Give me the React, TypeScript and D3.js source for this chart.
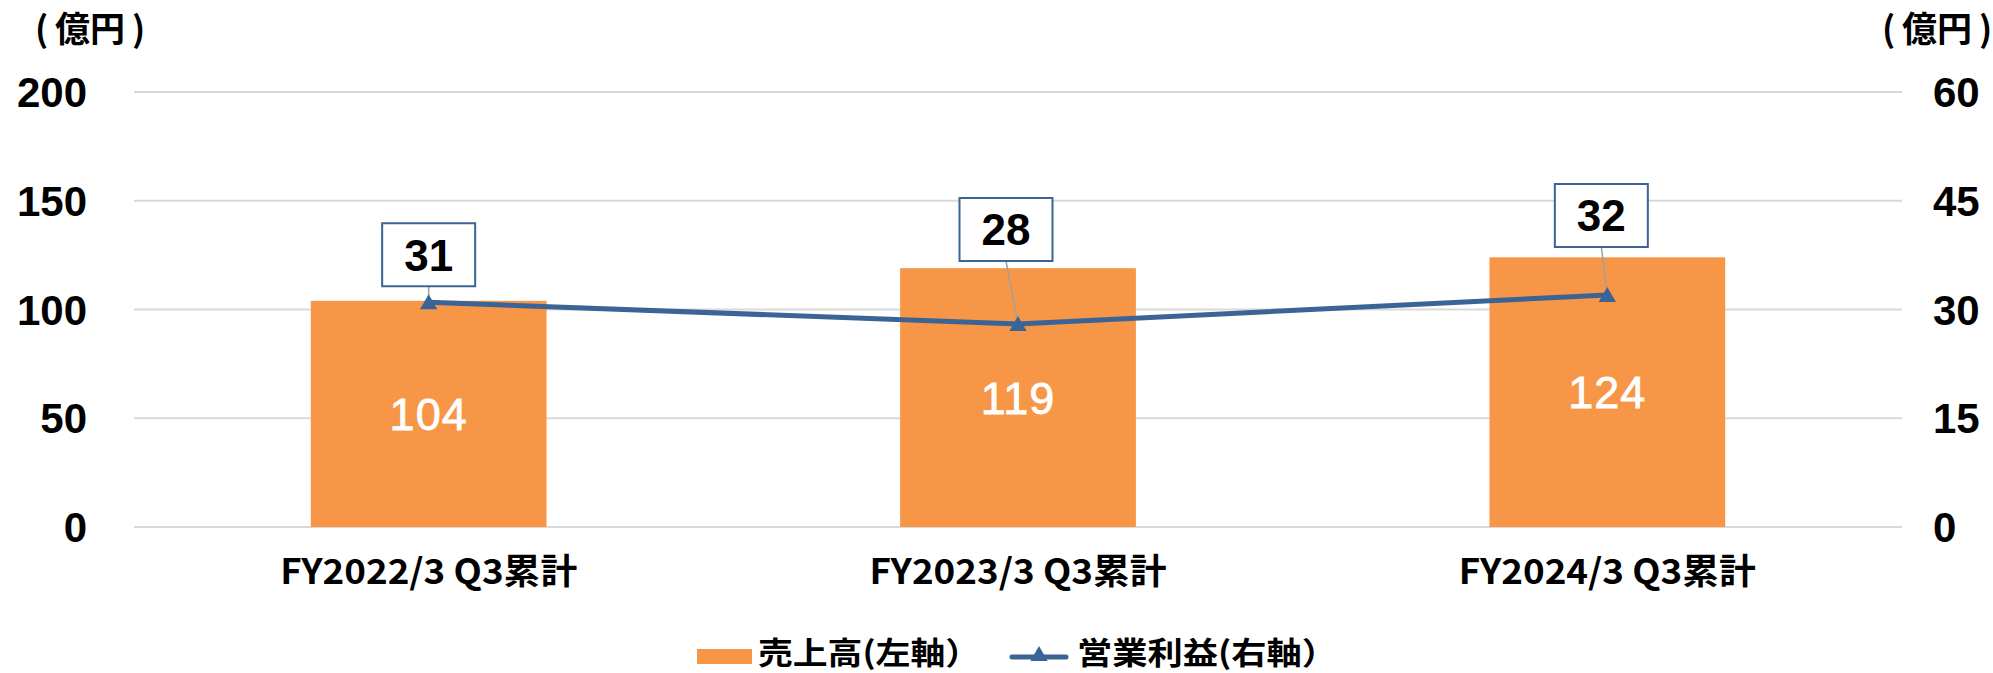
import React from "react";
import * as d3 from "d3";

const categories = ["FY2022/3 Q3累計", "FY2023/3 Q3累計", "FY2024/3 Q3累計"];
const sales = [104, 119, 124]; // 売上高 (左軸)
const profit = [31, 28, 32]; // 営業利益 (右軸)
const leftTicks = [0, 50, 100, 150, 200];
const rightTicks = [0, 15, 30, 45, 60];
const unitChars = ["(", "億", "円", ")"];
// callout box offsets relative to each point (dx, dy of box bottom-center)
const calloutOffsets = [
  [0, -16],
  [-12, -63],
  [-6, -48],
];

const W = 1993;
const H = 673;
const margin = { left: 134, right: 91, top: 92, bottom: 146 };

const ORANGE = "#F79646";
const BLUE = "#3A6496";
const GRID = "#D9D9D9";
const latin = "'Liberation Sans', Arial, sans-serif";
const cjk = "'Noto Sans CJK JP', sans-serif";

// x of each char of the unit label, relative to its left edge
const unitDx = [0, 20, 55, 97];

const UnitLabel: React.FC<{ x: number }> = ({ x }) => (
  <text y={42} fontFamily={cjk} fontWeight="bold" fontSize={35}>
    {unitChars.map((ch, i) => (
      <tspan key={i} x={x + unitDx[i]}>
        {ch}
      </tspan>
    ))}
  </text>
);

const App: React.FC = () => {
  const x = d3
    .scaleBand<string>()
    .domain(categories)
    .range([margin.left, W - margin.right])
    .paddingInner(0.6)
    .paddingOuter(0.3);
  const yL = d3.scaleLinear().domain([0, 200]).range([H - margin.bottom, margin.top]);
  const yR = d3.scaleLinear().domain([0, 60]).range([H - margin.bottom, margin.top]);

  const cx = (c: string) => (x(c) ?? 0) + x.bandwidth() / 2;
  const pts: [number, number][] = categories.map((c, i) => [cx(c), yR(profit[i])]);
  const line = d3.line();
  const tri = d3.symbol(d3.symbolTriangle, 130)() ?? "";

  const boxW = 93;
  const boxH = 63;

  return (
    <svg
      width={W}
      height={H}
      style={{ position: "absolute", left: 0, top: 0, background: "#fff" }}
    >
      {/* gridlines */}
      {leftTicks.map((t) => (
        <line
          key={t}
          x1={margin.left}
          x2={W - margin.right}
          y1={yL(t)}
          y2={yL(t)}
          stroke={GRID}
          strokeWidth={2}
        />
      ))}

      {/* unit labels */}
      <UnitLabel x={35} />
      <UnitLabel x={1882} />

      {/* left axis ticks */}
      {leftTicks.map((t) => (
        <text
          key={t}
          x={87}
          y={yL(t)}
          dy="0.36em"
          textAnchor="end"
          fontFamily={latin}
          fontWeight="bold"
          fontSize={42}
          fill="#000"
        >
          {t}
        </text>
      ))}
      {/* right axis ticks */}
      {rightTicks.map((t) => (
        <text
          key={t}
          x={1933}
          y={yR(t)}
          dy="0.36em"
          fontFamily={latin}
          fontWeight="bold"
          fontSize={42}
          fill="#000"
        >
          {t}
        </text>
      ))}

      {/* bars */}
      {categories.map((c, i) => (
        <g key={c}>
          <rect
            x={x(c)}
            y={yL(sales[i])}
            width={x.bandwidth()}
            height={yL(0) - yL(sales[i])}
            fill={ORANGE}
          />
          <text
            x={cx(c)}
            y={(yL(sales[i]) + yL(0)) / 2}
            dy="0.36em"
            textAnchor="middle"
            fontFamily={latin}
            fontSize={45}
            letterSpacing={1}
            fill="#fff"
            stroke="#fff"
            strokeWidth={0.8}
          >
            {sales[i]}
          </text>
        </g>
      ))}

      {/* category labels */}
      {categories.map((c) => (
        <text
          key={c}
          x={cx(c)}
          y={584}
          textAnchor="middle"
          fontFamily={cjk}
          fontWeight="bold"
          fontSize={35}
          textLength={297}
          lengthAdjust="spacingAndGlyphs"
        >
          {c}
        </text>
      ))}

      {/* profit line */}
      <path d={line(pts) ?? ""} fill="none" stroke={BLUE} strokeWidth={5} />

      {/* callouts */}
      {pts.map(([px, py], i) => {
        const bx = px + calloutOffsets[i][0];
        const by = py + calloutOffsets[i][1];
        return (
          <g key={i}>
            <line x1={bx} y1={by} x2={px} y2={py} stroke="#A0A0A0" strokeWidth={1.5} />
            <rect
              x={bx - boxW / 2}
              y={by - boxH}
              width={boxW}
              height={boxH}
              fill="#fff"
              stroke={BLUE}
              strokeWidth={2}
            />
            <text
              x={bx}
              y={by - boxH / 2}
              dy="0.36em"
              textAnchor="middle"
              fontFamily={latin}
              fontWeight="bold"
              fontSize={44}
            >
              {profit[i]}
            </text>
          </g>
        );
      })}

      {/* markers */}
      {pts.map(([px, py], i) => (
        <path key={i} d={tri} transform={`translate(${px},${py + 2})`} fill={BLUE} />
      ))}

      {/* legend */}
      <rect x={697} y={649} width={55} height={15} fill={ORANGE} />
      <text
        x={758}
        y={664}
        fontFamily={cjk}
        fontWeight="bold"
        fontSize={31}
        textLength={222}
        lengthAdjust="spacingAndGlyphs"
      >
        売上高(左軸）
      </text>
      <line x1={1012} x2={1066} y1={657} y2={657} stroke={BLUE} strokeWidth={5} strokeLinecap="round" />
      <path d={tri} transform="translate(1039,656)" fill={BLUE} />
      <text
        x={1077}
        y={664}
        fontFamily={cjk}
        fontWeight="bold"
        fontSize={31}
        textLength={260}
        lengthAdjust="spacingAndGlyphs"
      >
        営業利益(右軸）
      </text>
    </svg>
  );
};

export default App;
